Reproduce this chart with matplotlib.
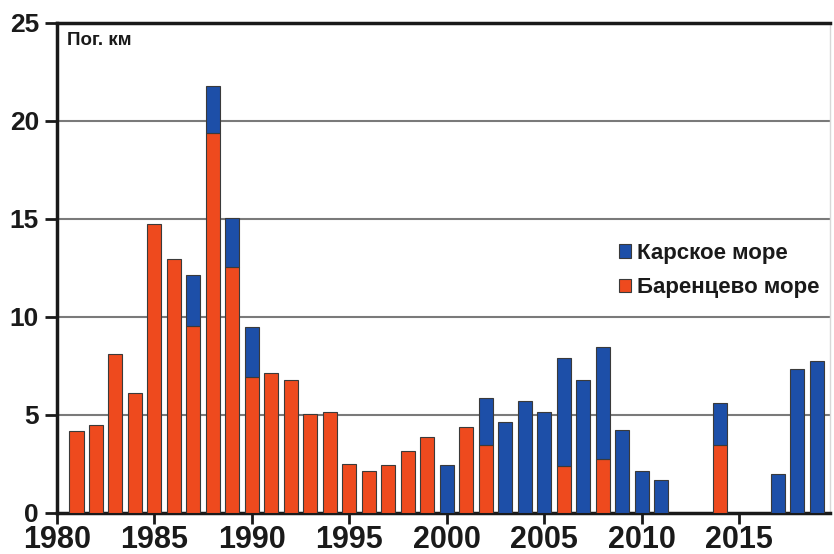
import matplotlib
matplotlib.use("Agg")
import matplotlib.pyplot as plt
from matplotlib.patches import Patch
import numpy as np

plt.rcParams['font.family'] = ['Liberation Sans', 'DejaVu Sans']

years = list(range(1981, 2020))
# total and Barents values per year (km)
total = [4.2, 4.47, 8.1, 6.14, 14.73, 12.96, 12.14, 21.8, 15.07, 9.5,
         7.13, 6.77, 5.07, 5.17, 2.52, 2.14, 2.47, 3.16, 3.9, 2.43,
         4.37, 5.85, 4.64, 5.73, 5.14, 7.89, 6.77, 8.49, 4.25, 2.16,
         1.67, 0, 0, 5.63, 0, 0, 2.0, 7.36, 7.74]
barents = [4.2, 4.47, 8.1, 6.14, 14.73, 12.96, 9.54, 19.37, 12.57, 6.92,
           7.13, 6.77, 5.07, 5.17, 2.52, 2.14, 2.47, 3.16, 3.9, 0,
           4.37, 3.49, 0, 0, 0, 2.40, 0, 2.76, 0, 0,
           0, 0, 0, 3.49, 0, 0, 0, 0, 0]
kara = [round(t - b, 2) for t, b in zip(total, barents)]

label_kara = "Карское море"
label_barents = "Баренцево море"
col_red = "#EE4A1E"
col_blue = "#1D4FA8"

fig = plt.figure(figsize=(8.34, 5.54), dpi=100)
ax = fig.add_axes([57/834, (554-513)/554, (830-57)/834, 490/554])

w = 0.72
ec = "#3a3a3a"
ax.bar(years, barents, width=w, color=col_red, edgecolor=ec, linewidth=0.8, zorder=3)
ax.bar(years, kara, width=w, bottom=barents, color=col_blue, edgecolor=ec, linewidth=0.8, zorder=3)
for p in ax.patches:
    if p.get_height() == 0:
        p.set_visible(False)

ax.set_xlim(1980, 2019.67)
ax.set_ylim(0, 25)
ax.set_yticks([0, 5, 10, 15, 20, 25])
ax.set_xticks(list(range(1980, 2020, 5)))
for yv in [5, 10, 15, 20]:
    ax.axhline(yv, color="#7a7a7a", lw=1.5, zorder=1)

for s in ['left', 'bottom', 'top']:
    ax.spines[s].set_color('#1a1a1a')
    ax.spines[s].set_linewidth(2.5)
ax.spines['right'].set_color('#d8d8d8')
ax.spines['right'].set_linewidth(1.0)

ax.tick_params(axis='y', direction='out', length=9, width=2, color='#1a1a1a',
               labelsize=19, pad=4)
ax.tick_params(axis='x', direction='out', length=8, width=2, color='#1a1a1a',
               labelsize=22, pad=1)
for lab in ax.get_xticklabels() + ax.get_yticklabels():
    lab.set_fontweight('bold')
    lab.set_color('#1a1a1a')

ax.text(0.013, 0.965, "Пог. км", transform=ax.transAxes, fontsize=13.5,
        fontweight='bold', color='#1a1a1a', va='center', ha='left')

handles = [Patch(facecolor=col_blue, edgecolor=ec, linewidth=0.8, label=label_kara),
           Patch(facecolor=col_red, edgecolor=ec, linewidth=0.8, label=label_barents)]
leg = fig.legend(handles=handles, loc='upper left', bbox_to_anchor=(619/834, 1-243/554),
                 frameon=False, prop={'size': 16, 'weight': 'bold'}, borderpad=0,
                 borderaxespad=0,
                 handlelength=0.55, handleheight=0.55, handletextpad=0.25, labelspacing=0.6)
for t in leg.get_texts():
    t.set_color('#1a1a1a')

fig.savefig("out.png", dpi=100)
